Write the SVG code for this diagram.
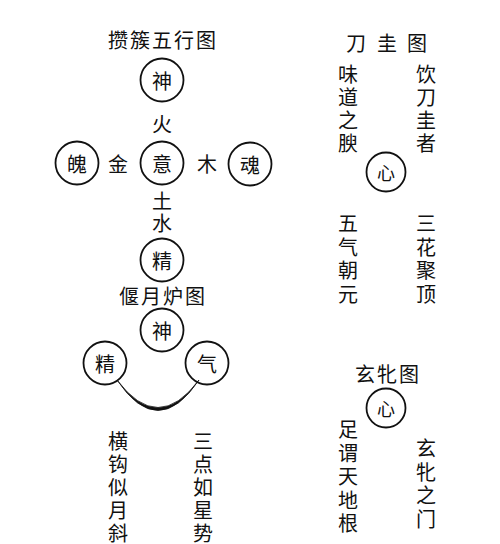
<svg xmlns="http://www.w3.org/2000/svg" width="500" height="544" viewBox="0 0 500 544">
<style>
text{font-family:"Noto Sans CJK SC","Noto Sans",sans-serif;font-size:20px;fill:#111;text-anchor:middle;dominant-baseline:central}
.t{letter-spacing:2px}
circle{fill:none;stroke:#111;stroke-width:1.8}
.s{font-size:18px}
</style>
<rect width="500" height="544" fill="#fff"/>
<g id="title1"><text class="t" x="163" y="39">攒簇五行图</text></g>
<g id="shen1"><circle cx="162" cy="80" r="21.5"/><text x="162" y="80">神</text></g>
<g id="lbl-huo"><text x="162" y="123">火</text></g>
<g id="po"><circle cx="77" cy="163" r="21.5"/><text x="77" y="163">魄</text></g>
<g id="lbl-jin"><text x="118" y="163">金</text></g>
<g id="yi"><circle cx="162" cy="163" r="21.5"/><text x="162" y="163">意</text></g>
<g id="lbl-mu"><text x="207" y="163">木</text></g>
<g id="hun"><circle cx="250" cy="164" r="21.5"/><text x="250" y="164">魂</text></g>
<g id="lbl-tu"><text x="162" y="200">土</text></g>
<g id="lbl-shui"><text x="162" y="222">水</text></g>
<g id="jing1"><circle cx="162" cy="260" r="21.5"/><text x="162" y="260">精</text></g>

<g id="title2"><text class="t" x="163" y="295">偃月炉图</text></g>
<g id="shen2"><circle cx="162" cy="330" r="21.5"/><text x="162" y="330">神</text></g>
<g id="jing2"><circle cx="105" cy="363" r="21.5"/><text x="105" y="363">精</text></g>
<g id="qi2"><circle cx="207" cy="363" r="21.5"/><text x="207" y="363">气</text></g>
<g id="connectors"><path d="M117,380 Q158,441 199,380 Q158,435 117,380 Z" fill="#111" stroke="#111" stroke-width="0.8"/></g>
<g id="txt-heng"><text x="118" y="440">横</text><text x="118" y="463">钩</text><text x="118" y="486">似</text><text x="118" y="509">月</text><text x="118" y="532">斜</text></g>
<g id="txt-san"><text x="203" y="440">三</text><text x="203" y="463">点</text><text x="203" y="486">如</text><text x="203" y="509">星</text><text x="203" y="532">势</text></g>

<g id="title3"><text x="356" y="42">刀</text><text x="387" y="42">圭</text><text x="417" y="42">图</text></g>
<g id="txt-wei"><text x="348" y="73">味</text><text x="348" y="96">道</text><text x="348" y="119">之</text><text x="348" y="142">腴</text></g>
<g id="txt-yin"><text x="426" y="73">饮</text><text x="426" y="96">刀</text><text x="426" y="119">圭</text><text x="426" y="142">者</text></g>
<g id="xin1"><circle cx="386" cy="172" r="19.5"/><text class="s" x="386" y="172">心</text></g>
<g id="txt-wu"><text x="348" y="222">五</text><text x="348" y="246">气</text><text x="348" y="269">朝</text><text x="348" y="293">元</text></g>
<g id="txt-sanhua"><text x="426" y="222">三</text><text x="426" y="246">花</text><text x="426" y="269">聚</text><text x="426" y="293">顶</text></g>

<g id="title4"><text class="t" x="388" y="373">玄牝图</text></g>
<g id="xin2"><circle cx="386" cy="408" r="19.5"/><text class="s" x="386" y="408">心</text></g>
<g id="txt-zu"><text x="348" y="428">足</text><text x="348" y="452">谓</text><text x="348" y="475">天</text><text x="348" y="499">地</text><text x="348" y="522">根</text></g>
<g id="txt-xuan"><text x="426" y="447">玄</text><text x="426" y="471">牝</text><text x="426" y="494">之</text><text x="426" y="518">门</text></g>
</svg>
